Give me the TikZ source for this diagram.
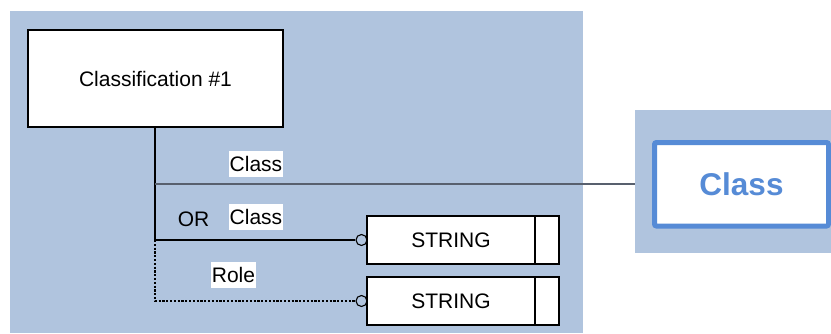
\documentclass[tikz,border=0pt]{standalone}
\usepackage{fontspec}
\setmainfont{Liberation Sans}
\definecolor{bgblue}{RGB}{176,196,222}
\definecolor{clsblue}{RGB}{86,139,214}
\definecolor{lineGray}{RGB}{88,96,110}
\begin{document}
\begin{tikzpicture}[x=0.5pt,y=-0.5pt,
  txt/.style={font=\fontsize{10.5}{12}\selectfont},
  lbl/.style={txt, fill=white, inner xsep=0.4pt, inner ysep=0pt, minimum height=13pt},
  panel/.style={fill=bgblue, inner sep=0pt},
  box/.style={txt, draw=black, line width=0.55pt, fill=white, inner sep=0pt},
  conn/.style={line width=0.55pt, draw=black},
  dotconn/.style={line width=0.55pt, draw=black, dash pattern=on 1.1pt off 0.8pt},
  ring/.style={draw=black, circle, minimum size=5.5pt, inner sep=0pt, line width=0.55pt}]
\useasboundingbox (0,0) rectangle (831,333);
% backgrounds
\node[panel, minimum width=286.5pt, minimum height=161pt] (bg) at (296.5,172) {};
\node[panel, minimum width=98pt, minimum height=71.5pt] (rpanel) at (733,181.5) {};
% boxes
\node[box, minimum width=127.5pt, minimum height=48.5pt] (cls) at (155.5,78.5) {Classification \#1};
\node[draw=clsblue, line width=2.5pt, fill=white, rounded corners=1pt,
      minimum width=87pt, minimum height=41.75pt, inner sep=0pt, text=clsblue,
      font=\bfseries\fontsize{15.75}{18}\selectfont] (clsbox) at (741.5,184.25) {Class};
\node[box, minimum width=84pt, minimum height=24pt] (str1) at (451,240) {STRING};
\node[box, minimum width=12pt, minimum height=24pt] (str1b) at (547,240) {};
\node[box, minimum width=84pt, minimum height=24pt] (str2) at (451,301) {STRING};
\node[box, minimum width=12pt, minimum height=24pt] (str2b) at (547,301) {};
% circles
\node[ring] (c1) at (361.5,240) {};
\node[ring] (c2) at (361.5,301) {};
% junctions
\coordinate (j1) at (155,184);
\coordinate (j2) at (155,240);
\coordinate (j3) at (155,301);
% connectors
\draw[conn] (cls.south -| j1) -- (j2);
\draw[line width=0.8pt, draw=lineGray] (j1) -- (j1 -| rpanel.west);
\draw[conn] (j2) -- (c1.west);
\draw[conn] (c1.east) -- (str1.west);
\draw[dotconn] (j2) -- (j3) -- (c2.west);
\draw[conn] (c2.east) -- (str2.west);
% labels
\node[lbl] (l1) at (256,164) {Class};
\node[lbl] (l2) at (256,216.5) {Class};
\node[txt, inner sep=0pt] (lor) at (193.5,219.5) {OR};
\node[lbl] (l3) at (233.5,275) {Role};
\end{tikzpicture}
\end{document}
